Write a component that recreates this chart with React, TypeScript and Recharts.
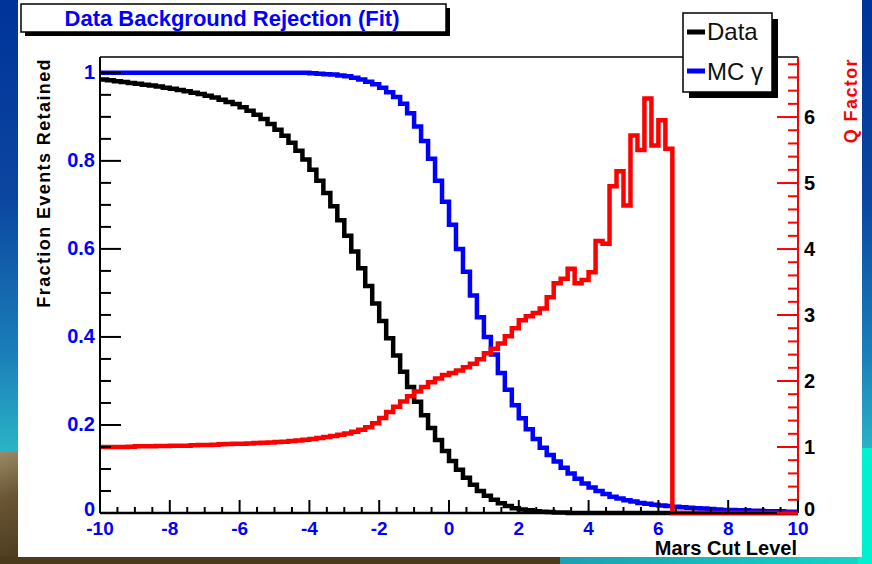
import React from 'react';
import { ComposedChart, Line, XAxis, YAxis, ReferenceLine } from 'recharts';

const FONT = "'Liberation Sans', Arial, Helvetica, sans-serif";

// histogram binning: 100 bins of 0.2 between -10 and 10
const binEdges: number[] = Array.from({ length: 101 }, (_, i) => Math.round((-10 + 0.2 * i) * 10) / 10);

// fraction of data events retained (black)
const dataFrac = [
  0.985, 0.983, 0.981, 0.979, 0.977, 0.975, 0.973, 0.971, 0.969, 0.966,
  0.964, 0.961, 0.958, 0.955, 0.952, 0.948, 0.944, 0.939, 0.934, 0.929,
  0.922, 0.914, 0.905, 0.895, 0.884, 0.871, 0.857, 0.841, 0.823, 0.803,
  0.78, 0.755, 0.727, 0.697, 0.665, 0.63, 0.594, 0.556, 0.516, 0.476,
  0.436, 0.397, 0.358, 0.321, 0.286, 0.253, 0.222, 0.193, 0.166, 0.141,
  0.118, 0.098, 0.08, 0.064, 0.05, 0.039, 0.03, 0.022, 0.016, 0.011,
  0.008, 0.006, 0.004, 0.003, 0.002, 0.001, 0.001, 0, 0, 0,
  0, 0, 0, 0, 0, 0, 0, 0, 0, 0,
  0, 0, 0, 0, 0, 0, 0, 0, 0, 0,
  0, 0, 0, 0, 0, 0, 0, 0, 0, 0,
];

// fraction of MC gamma events retained (blue)
const mcFrac = [
  1, 1, 1, 1, 1, 1, 1, 1, 1, 1,
  1, 1, 1, 1, 1, 1, 1, 1, 1, 1,
  1, 1, 1, 1, 1, 1, 1, 1, 1, 1,
  0.999, 0.998, 0.997, 0.996, 0.994, 0.992, 0.989, 0.985, 0.98, 0.974,
  0.966, 0.956, 0.945, 0.93, 0.908, 0.878, 0.845, 0.805, 0.755, 0.707,
  0.655, 0.6, 0.548, 0.494, 0.445, 0.4, 0.36, 0.318, 0.28, 0.245,
  0.215, 0.19, 0.168, 0.148, 0.132, 0.117, 0.103, 0.09, 0.078, 0.067,
  0.058, 0.05, 0.043, 0.037, 0.033, 0.029, 0.026, 0.023, 0.021, 0.019,
  0.017, 0.016, 0.014, 0.013, 0.012, 0.011, 0.01, 0.009, 0.008, 0.007,
  0.007, 0.006, 0.006, 0.005, 0.005, 0.004, 0.004, 0.004, 0.003, 0.003,
];

// Q factor (red, right axis)
const qFactor = [
  1.0, 1.0, 1.0, 1.0, 1.005, 1.01, 1.01, 1.01, 1.015, 1.015,
  1.02, 1.02, 1.02, 1.025, 1.03, 1.03, 1.035, 1.04, 1.045, 1.05,
  1.05, 1.055, 1.06, 1.065, 1.07, 1.075, 1.08, 1.09, 1.1, 1.11,
  1.12, 1.135, 1.15, 1.165, 1.185, 1.205, 1.23, 1.26, 1.3, 1.36,
  1.44, 1.53, 1.61, 1.69, 1.77, 1.84, 1.91, 1.98, 2.04, 2.09,
  2.12, 2.16, 2.21, 2.26, 2.33, 2.42, 2.49, 2.57, 2.68, 2.8,
  2.92, 2.98, 3.03, 3.1, 3.27, 3.48, 3.55, 3.7, 3.48, 3.53,
  3.65, 4.12, 4.08, 4.95, 5.18, 4.66, 5.72, 5.5, 6.28, 5.57,
  5.95, 5.52, 0, 0, 0, 0, 0, 0, 0, 0,
  0, 0, 0, 0, 0, 0, 0, 0, 0, 0,
];

const xMajor = [-10, -8, -6, -4, -2, 0, 2, 4, 6, 8, 10];
const leftMajor = [0, 0.2, 0.4, 0.6, 0.8, 1];
const leftLabels = ['0', '0.2', '0.4', '0.6', '0.8', '1'];
const rightMajor = [0, 1, 2, 3, 4, 5, 6];

const LEFT_MAX = 1.036;
const RIGHT_MAX = 6.91;

// minor + major tick positions
const xTicks = Array.from({ length: 41 }, (_, i) => Math.round((-10 + 0.5 * i) * 10) / 10);
const leftTicks = Array.from({ length: 21 }, (_, i) => Math.round(0.05 * i * 100) / 100);
const rightTicks = Array.from({ length: 35 }, (_, i) => Math.round(0.2 * i * 10) / 10);

const rows = binEdges.map((x, i) => {
  const k = Math.min(i, dataFrac.length - 1);
  return { x, data: dataFrac[k], mc: mcFrac[k], q: qFactor[k] };
});

const XTick = (props: any) => {
  const { x, y, payload } = props;
  const v = payload.value;
  const major = xMajor.indexOf(v) >= 0;
  return (
    <g>
      <line x1={x} x2={x} y1={y} y2={y - (major ? 13 : 6)} stroke="#000" strokeWidth={2} />
      {major && (
        <text x={x} y={y + 22} textAnchor="middle" fill="#0000ff" fontSize={19} fontWeight="bold" fontFamily={FONT}>
          {v}
        </text>
      )}
    </g>
  );
};

const LeftTick = (props: any) => {
  const { x, y, payload } = props;
  const idx = leftMajor.indexOf(payload.value);
  const major = idx >= 0;
  // the zero label sits a little higher so it clears the x labels
  const dy = payload.value === 0 ? 3 : 6;
  return (
    <g>
      <line x1={x} x2={x + (major ? 21 : 11)} y1={y} y2={y} stroke="#000" strokeWidth={2} />
      {major && (
        <text x={x - 5} y={y + dy} textAnchor="end" fill="#0000ff" fontSize={20} fontWeight="bold" fontFamily={FONT}>
          {leftLabels[idx]}
        </text>
      )}
    </g>
  );
};

const RightTick = (props: any) => {
  const { x, y, payload } = props;
  const major = rightMajor.indexOf(payload.value) >= 0;
  const dy = payload.value === 0 ? 3 : 7;
  return (
    <g>
      <line x1={x} x2={x - (major ? 21 : 10)} y1={y} y2={y} stroke="#ff0000" strokeWidth={2} />
      {major && (
        <text x={x + 6} y={y + dy} textAnchor="start" fill="#000" fontSize={20} fontWeight="bold" fontFamily={FONT}>
          {payload.value}
        </text>
      )}
    </g>
  );
};

const abs = (l: number, t: number, w: number, h: number, bg: string): React.CSSProperties => ({
  position: 'absolute', left: l, top: t, width: w, height: h, background: bg,
});

export default function App() {
  return (
    <div style={{ position: 'absolute', left: 0, top: 0, width: 872, height: 564, overflow: 'hidden',
      background: 'linear-gradient(180deg, #003399 0%, #0b46a0 35%, #1a7db8 62%, #2ab3c6 80%, #2ec0c8 100%)' }}>
      <div style={abs(0, 452, 18, 112, 'linear-gradient(160deg, #9a8a66 0%, #6a5634 40%, #4a3a1e 100%)')} />
      <div style={abs(0, 556, 560, 8, '#4b3b1d')} />
      <div style={abs(560, 556, 312, 8, 'linear-gradient(90deg, #1e9fb0, #10d8c8)')} />
      <div style={abs(858, 448, 14, 116, '#00f0d0')} />
      <div style={abs(18, 0, 844, 557, '#ffffff')} />

      <div style={{ position: 'absolute', left: 0, top: 0 }}>
        <ComposedChart width={872} height={564} data={rows} margin={{ top: 57, right: 14, bottom: 21, left: 40 }}>
          <XAxis dataKey="x" type="number" domain={[-10, 10]} ticks={xTicks} interval={0}
            height={30} tickSize={0} tickMargin={0} tick={<XTick />} tickLine={false}
            axisLine={{ stroke: '#000', strokeWidth: 2.5 }} />
          <YAxis yAxisId="l" orientation="left" type="number" domain={[0, LEFT_MAX]} ticks={leftTicks} interval={0}
            width={60} tickSize={0} tickMargin={0} tick={<LeftTick />} tickLine={false}
            axisLine={{ stroke: '#000', strokeWidth: 2 }} />
          <YAxis yAxisId="r" orientation="right" type="number" domain={[0, RIGHT_MAX]} ticks={rightTicks} interval={0}
            width={60} tickSize={0} tickMargin={0} tick={<RightTick />} tickLine={false}
            axisLine={{ stroke: '#ff0000', strokeWidth: 2 }} />
          <ReferenceLine yAxisId="l" y={LEFT_MAX} stroke="#000" strokeWidth={1.5} />
          <Line yAxisId="l" type="stepAfter" dataKey="data" stroke="#000" strokeWidth={4.5} dot={false} isAnimationActive={false} strokeLinejoin="miter" />
          <Line yAxisId="l" type="stepAfter" dataKey="mc" stroke="#0000ff" strokeWidth={4.5} dot={false} isAnimationActive={false} strokeLinejoin="miter" />
          <Line yAxisId="r" type="stepAfter" dataKey="q" stroke="#ff0000" strokeWidth={4.5} dot={false} isAnimationActive={false} strokeLinejoin="miter" />
        </ComposedChart>
      </div>

      <svg width={872} height={564} style={{ position: 'absolute', left: 0, top: 0, pointerEvents: 'none' }}>
        {/* title box */}
        <rect x={25} y={8} width={425} height={28} fill="#000" />
        <rect x={21} y={4} width={425} height={28} fill="#fff" stroke="#000" strokeWidth={1.5} />
        <text x={232} y={26} textAnchor="middle" fill="#0000ff" fontSize={22} fontWeight="bold" fontFamily={FONT}>
          Data Background Rejection (Fit)
        </text>

        {/* legend */}
        <rect x={689} y={19} width={89} height={79} fill="#000" />
        <rect x={683} y={13} width={89} height={79} fill="#fff" stroke="#000" strokeWidth={1.5} />
        <line x1={687} x2={705} y1={32} y2={32} stroke="#000" strokeWidth={5} />
        <text x={707} y={40} fill="#111" fontSize={24} fontFamily={FONT}>Data</text>
        <line x1={687} x2={705} y1={71} y2={71} stroke="#0000ff" strokeWidth={5} />
        <text x={707} y={80} fill="#111" fontSize={24} fontFamily={FONT}>MC γ</text>

        {/* axis titles */}
        <text transform="translate(50,58) rotate(-90)" textAnchor="end" fill="#000" fontSize={18} fontWeight="bold"
          fontFamily={FONT} letterSpacing={1.4}>
          Fraction Events Retained
        </text>
        <text transform="translate(857,58) rotate(-90)" textAnchor="end" fill="#ff0000" fontSize={18} fontWeight="bold"
          fontFamily={FONT} letterSpacing={1.4}>
          Q Factor
        </text>
        <text x={797} y={555} textAnchor="end" fill="#000" fontSize={20} fontWeight="bold" fontFamily={FONT}>
          Mars Cut Level
        </text>
      </svg>
    </div>
  );
}
